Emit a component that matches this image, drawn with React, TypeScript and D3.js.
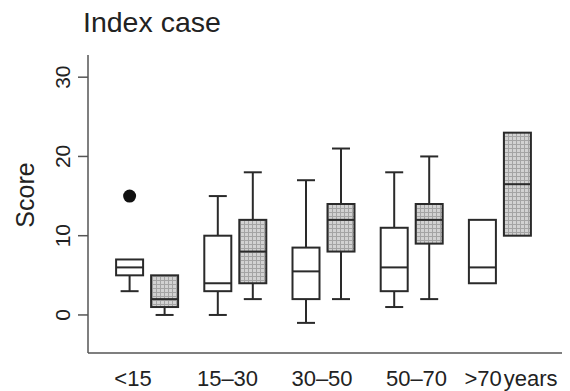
import * as d3 from "d3";

// age groups on the x axis
const groups = ["<15", "15–30", "30–50", "50–70", ">70"];

// box stats: [min, q1, median, q3, max]
const indexStats = [
  [3, 5, 6, 7, 7],
  [0, 3, 4, 10, 15],
  [-1, 2, 5.5, 8.5, 17],
  [1, 3, 6, 11, 18],
  [4, 4, 6, 12, 12],
];
const contactStats = [
  [0, 1, 2, 5, 5],
  [2, 4, 8, 12, 18],
  [2, 8, 12, 14, 21],
  [2, 9, 12, 14, 20],
  [10, 10, 16.5, 23, 23],
];
// outliers: [group index, value]
const indexOutliers: [number, number][] = [[0, 15]];

const yTicks = [0, 10, 20, 30];

const W = 570;
const H = 391;
const FONT = "'Liberation Sans', Arial, Helvetica, sans-serif";

export default function App() {
  const y = d3.scaleLinear().domain([-4.8, 32.8]).range([353, 55]);
  const x = d3.scaleBand().domain(groups).range([103, 544]).padding(0);
  const xLabel = d3.scalePoint().domain(groups).range([133, 511]);

  const boxW = 27;
  const capW = 18;
  const offset = 17.5;
  const center = (g: string) => (x(g) ?? 0) + x.bandwidth() / 2;

  const renderBox = (s: number[], cx: number, fill: string, key: string) => {
    const [mn, q1, md, q3, mx] = s;
    return (
      <g key={key}>
        {mx > q3 && (
          <g>
            <line x1={cx} x2={cx} y1={y(q3)} y2={y(mx)} stroke="#2a2a2a" strokeWidth={2} />
            <line x1={cx - capW / 2} x2={cx + capW / 2} y1={y(mx)} y2={y(mx)} stroke="#2a2a2a" strokeWidth={2} />
          </g>
        )}
        {mn < q1 && (
          <g>
            <line x1={cx} x2={cx} y1={y(q1)} y2={y(mn)} stroke="#2a2a2a" strokeWidth={2} />
            <line x1={cx - capW / 2} x2={cx + capW / 2} y1={y(mn)} y2={y(mn)} stroke="#2a2a2a" strokeWidth={2} />
          </g>
        )}
        <rect
          x={cx - boxW / 2}
          y={y(q3)}
          width={boxW}
          height={y(q1) - y(q3)}
          fill={fill}
          stroke="#2a2a2a"
          strokeWidth={2}
        />
        <line x1={cx - boxW / 2} x2={cx + boxW / 2} y1={y(md)} y2={y(md)} stroke="#2a2a2a" strokeWidth={2} />
      </g>
    );
  };

  return (
    <svg
      width={W}
      height={H}
      style={{ position: "absolute", left: 0, top: 0, background: "#fff" }}
      fontFamily={FONT}
    >
      <defs>
        <pattern id="hatch" width={4} height={4} patternUnits="userSpaceOnUse">
          <rect width={4} height={4} fill="#d2d2d2" />
          <path d="M0 0.5H4M0.5 0V4" stroke="#a4a4a4" strokeWidth={1} />
        </pattern>
      </defs>

      <text x={83} y={32} fontSize={28.5} fill="#222">
        Index case
      </text>

      {/* axes */}
      <line x1={88} x2={88} y1={55} y2={353} stroke="#555" strokeWidth={1.5} />
      <line x1={88} x2={562} y1={353} y2={353} stroke="#555" strokeWidth={1.5} />
      {yTicks.map((t) => (
        <g key={t}>
          <line x1={78} x2={88} y1={y(t)} y2={y(t)} stroke="#555" strokeWidth={1.5} />
          <text
            transform={`translate(63,${y(t)}) rotate(-90)`}
            textAnchor="middle"
            dy="0.35em"
            fontSize={21}
            fill="#222"
          >
            {t}
          </text>
        </g>
      ))}
      <text
        transform={`translate(25,195) rotate(-90)`}
        textAnchor="middle"
        dy="0.35em"
        fontSize={25}
        fill="#222"
      >
        Score
      </text>

      {groups.map((g, i) => (
        <text key={g} x={xLabel(g)} y={386} textAnchor="middle" fontSize={22} fill="#222">
          {g}
          {i === groups.length - 1 && <tspan dx={2}>years</tspan>}
        </text>
      ))}

      {groups.map((g, i) => renderBox(indexStats[i], center(g) - offset, "#fff", `i${i}`))}
      {groups.map((g, i) => renderBox(contactStats[i], center(g) + offset, "url(#hatch)", `c${i}`))}

      {indexOutliers.map(([gi, v]) => (
        <circle key={gi} cx={center(groups[gi]) - offset} cy={y(v)} r={6.5} fill="#111" />
      ))}
    </svg>
  );
}
